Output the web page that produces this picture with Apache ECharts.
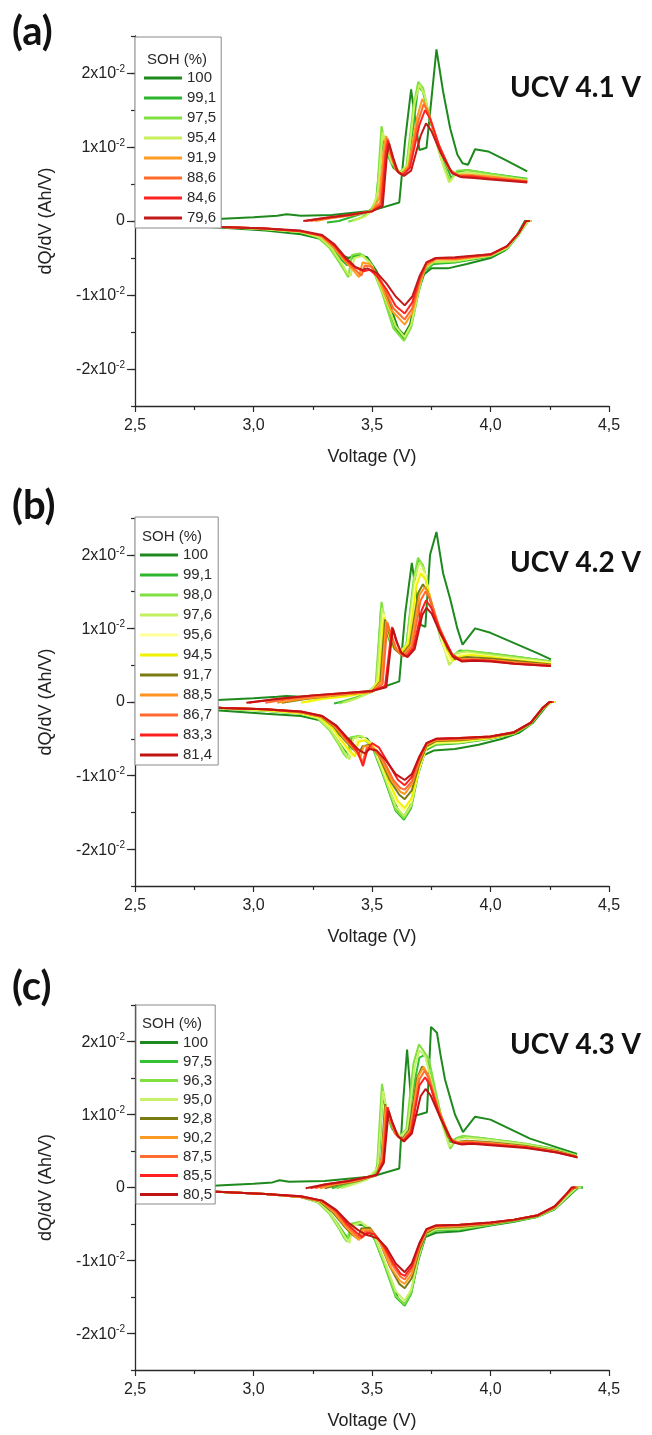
<!DOCTYPE html>
<html><head><meta charset="utf-8">
<script src="https://cdn.jsdelivr.net/npm/echarts@6/dist/echarts.min.js"></script>
<style>
html,body{margin:0;padding:0;background:#fff;width:652px;height:1435px;overflow:hidden}
.p{position:absolute;left:0;width:652px}
</style></head><body>
<div id="pa" class="p" style="top:0;height:478px"></div>
<div id="pb" class="p" style="top:478px;height:478px"></div>
<div id="pc" class="p" style="top:956px;height:479px"></div>
<script>
// ---------- shared axis data ----------
const X_MIN = 2.5, X_MAX = 4.5, X_STEP = 0.5;
const Y_MIN = -0.025, Y_MAX = 0.025;
const Y_LABEL_VALUES = [-0.02, -0.01, 0, 0.01, 0.02];
const X_NAME = 'Voltage (V)';
const Y_NAME = 'dQ/dV (Ah/V)';

// ---------- panel (a) UCV 4.1 V ----------
const A_SOH = ['100','99,1','97,5','95,4','91,9','88,6','84,6','79,6'];
const A_COLORS = ['#1e8a1e','#2db52d','#80e040','#c8f05a','#ff9a22','#ff6b2a','#ff2222','#c21a1a'];
const A_CHG_100 = [[2.70,0.0000],[2.87,0.0003],[3.00,0.0005],[3.10,0.0007],[3.14,0.0009],[3.20,0.0007],[3.33,0.0008],[3.50,0.0014],[3.615,0.0025],[3.64,0.0110],[3.665,0.0178],[3.685,0.0130],[3.70,0.0096],[3.73,0.0099],[3.772,0.0232],[3.80,0.0175],[3.83,0.0125],[3.86,0.0090],[3.882,0.0078],[3.905,0.0076],[3.935,0.0097],[3.99,0.0094],[4.06,0.0083],[4.155,0.0067]];
const A_CHG_991 = [[3.31,-0.0002],[3.36,0.0000],[3.42,0.0006],[3.48,0.0012],[3.515,0.0020],[3.535,0.0085],[3.55,0.0113],[3.565,0.0090],[3.59,0.0072],[3.62,0.0064],[3.65,0.0072],[3.675,0.0130],[3.695,0.0182],[3.715,0.0175],[3.75,0.0130],[3.80,0.0085],[3.835,0.0058],[3.86,0.0066],[3.90,0.0069],[4.00,0.0064],[4.155,0.0057]];
const A_CHG_975 = [[3.40,-0.0001],[3.45,0.0004],[3.49,0.0012],[3.52,0.0030],[3.54,0.0128],[3.555,0.0105],[3.58,0.0080],[3.615,0.0066],[3.645,0.0074],[3.675,0.0155],[3.695,0.0188],[3.715,0.0180],[3.745,0.0138],[3.79,0.0085],[3.83,0.0054],[3.86,0.0068],[3.90,0.0069],[4.00,0.0064],[4.155,0.0056]];
const A_CHG_954 = [[3.42,0.0000],[3.47,0.0006],[3.50,0.0014],[3.525,0.0040],[3.545,0.0120],[3.56,0.0100],[3.585,0.0078],[3.62,0.0066],[3.65,0.0076],[3.68,0.0160],[3.70,0.0184],[3.72,0.0172],[3.75,0.0132],[3.80,0.0075],[3.825,0.0052],[3.855,0.0064],[3.90,0.0066],[4.00,0.0062],[4.155,0.0055]];
const A_CHG_919 = [[3.26,0.0000],[3.33,0.0004],[3.42,0.0008],[3.50,0.0014],[3.53,0.0030],[3.55,0.0100],[3.56,0.0115],[3.575,0.0092],[3.60,0.0070],[3.625,0.0063],[3.655,0.0075],[3.69,0.0140],[3.712,0.0165],[3.735,0.0150],[3.77,0.0110],[3.82,0.0072],[3.86,0.0062],[3.90,0.0063],[4.00,0.0060],[4.155,0.0054]];
const A_CHG_886 = [[3.24,0.0000],[3.32,0.0004],[3.42,0.0008],[3.50,0.0013],[3.535,0.0025],[3.555,0.0095],[3.565,0.0112],[3.58,0.0090],[3.60,0.0070],[3.625,0.0062],[3.655,0.0072],[3.695,0.0135],[3.718,0.0158],[3.74,0.0145],[3.78,0.0105],[3.83,0.0068],[3.87,0.0061],[3.92,0.0061],[4.00,0.0058],[4.155,0.0053]];
const A_CHG_846 = [[3.22,0.0000],[3.30,0.0004],[3.40,0.0008],[3.50,0.0013],[3.54,0.0022],[3.558,0.0090],[3.568,0.0109],[3.585,0.0088],[3.605,0.0068],[3.63,0.0062],[3.66,0.0072],[3.70,0.0130],[3.724,0.0150],[3.745,0.0138],[3.785,0.0100],[3.835,0.0066],[3.87,0.0060],[3.92,0.0060],[4.00,0.0057],[4.155,0.0053]];
const A_CHG_796 = [[3.21,0.0000],[3.30,0.0004],[3.40,0.0008],[3.50,0.0013],[3.545,0.0020],[3.562,0.0085],[3.572,0.0105],[3.59,0.0085],[3.61,0.0066],[3.635,0.0061],[3.665,0.0068],[3.705,0.0115],[3.728,0.0132],[3.75,0.0122],[3.79,0.0092],[3.84,0.0064],[3.88,0.0059],[3.93,0.0058],[4.00,0.0056],[4.155,0.0052]];
const A_DIS_100 = [[2.70,-0.0006],[2.87,-0.0009],[3.05,-0.0013],[3.20,-0.0018],[3.28,-0.0024],[3.33,-0.0036],[3.37,-0.0046],[3.40,-0.0050],[3.44,-0.0046],[3.48,-0.0049],[3.52,-0.0068],[3.57,-0.0108],[3.61,-0.0145],[3.635,-0.0154],[3.66,-0.0140],[3.69,-0.0100],[3.72,-0.0072],[3.75,-0.0064],[3.82,-0.0064],[3.90,-0.0058],[4.00,-0.0050],[4.06,-0.0040],[4.11,-0.0020],[4.145,0.0000],[4.165,0.0000]];
const A_DIS_991 = [[2.70,-0.0005],[2.87,-0.0008],[3.05,-0.0011],[3.20,-0.0015],[3.28,-0.0022],[3.33,-0.0036],[3.37,-0.0052],[3.395,-0.0060],[3.42,-0.0048],[3.46,-0.0046],[3.50,-0.0060],[3.55,-0.0100],[3.60,-0.0145],[3.637,-0.0160],[3.665,-0.0142],[3.695,-0.0098],[3.72,-0.0068],[3.76,-0.0058],[3.85,-0.0056],[4.00,-0.0048],[4.07,-0.0038],[4.12,-0.0018],[4.155,0.0000],[4.175,0.0000]];
const A_DIS_975 = [[2.70,-0.0005],[2.87,-0.0008],[3.05,-0.0011],[3.20,-0.0015],[3.27,-0.0022],[3.32,-0.0036],[3.36,-0.0055],[3.385,-0.0068],[3.40,-0.0076],[3.415,-0.0046],[3.45,-0.0044],[3.49,-0.0055],[3.54,-0.0095],[3.59,-0.0145],[3.635,-0.0162],[3.665,-0.0144],[3.695,-0.0098],[3.72,-0.0066],[3.76,-0.0056],[3.85,-0.0055],[4.00,-0.0047],[4.07,-0.0037],[4.12,-0.0018],[4.16,0.0000],[4.175,0.0000]];
const A_DIS_954 = [[2.70,-0.0005],[2.87,-0.0008],[3.05,-0.0011],[3.20,-0.0015],[3.28,-0.0022],[3.33,-0.0037],[3.37,-0.0056],[3.395,-0.0070],[3.41,-0.0074],[3.425,-0.0050],[3.46,-0.0047],[3.50,-0.0060],[3.55,-0.0100],[3.60,-0.0142],[3.637,-0.0157],[3.665,-0.0140],[3.695,-0.0095],[3.72,-0.0064],[3.76,-0.0055],[3.85,-0.0054],[4.00,-0.0047],[4.07,-0.0036],[4.12,-0.0017],[4.158,0.0000],[4.172,0.0000]];
const A_DIS_919 = [[2.70,-0.0005],[2.87,-0.0008],[3.05,-0.0010],[3.20,-0.0014],[3.28,-0.0020],[3.33,-0.0033],[3.38,-0.0052],[3.42,-0.0066],[3.445,-0.0076],[3.46,-0.0056],[3.49,-0.0058],[3.53,-0.0080],[3.58,-0.0120],[3.638,-0.0140],[3.67,-0.0124],[3.70,-0.0085],[3.73,-0.0060],[3.77,-0.0052],[3.85,-0.0052],[4.00,-0.0046],[4.07,-0.0035],[4.12,-0.0016],[4.152,0.0000],[4.168,0.0000]];
const A_DIS_886 = [[2.70,-0.0005],[2.87,-0.0008],[3.05,-0.0010],[3.20,-0.0014],[3.29,-0.0020],[3.34,-0.0034],[3.39,-0.0054],[3.43,-0.0066],[3.455,-0.0074],[3.47,-0.0060],[3.50,-0.0062],[3.54,-0.0082],[3.59,-0.0118],[3.638,-0.0133],[3.67,-0.0118],[3.70,-0.0082],[3.73,-0.0058],[3.77,-0.0051],[3.85,-0.0051],[4.00,-0.0046],[4.07,-0.0034],[4.12,-0.0016],[4.15,0.0000],[4.165,0.0000]];
const A_DIS_846 = [[2.70,-0.0005],[2.87,-0.0008],[3.05,-0.0010],[3.20,-0.0014],[3.29,-0.0020],[3.34,-0.0033],[3.39,-0.0052],[3.43,-0.0063],[3.465,-0.0068],[3.49,-0.0066],[3.52,-0.0074],[3.56,-0.0092],[3.60,-0.0115],[3.638,-0.0125],[3.67,-0.0110],[3.70,-0.0078],[3.73,-0.0056],[3.77,-0.0050],[3.85,-0.0050],[4.00,-0.0045],[4.07,-0.0034],[4.12,-0.0016],[4.15,0.0000],[4.165,0.0000]];
const A_DIS_796 = [[2.70,-0.0005],[2.87,-0.0008],[3.05,-0.0010],[3.20,-0.0013],[3.29,-0.0019],[3.34,-0.0031],[3.39,-0.0050],[3.43,-0.0062],[3.46,-0.0066],[3.48,-0.0064],[3.52,-0.0070],[3.56,-0.0084],[3.60,-0.0102],[3.638,-0.0114],[3.67,-0.0102],[3.70,-0.0075],[3.73,-0.0056],[3.77,-0.0050],[3.85,-0.0049],[4.00,-0.0045],[4.07,-0.0034],[4.12,-0.0016],[4.148,0.0000],[4.165,0.0000]];

// ---------- panel (b) UCV 4.2 V ----------
const B_SOH = ['100','99,1','98,0','97,6','95,6','94,5','91,7','88,5','86,7','83,3','81,4'];
const B_COLORS = ['#1e8a1e','#2db52d','#80e040','#c2f060','#ffff99','#f2f200','#7a7a12','#ff9422','#ff6a30','#ff1e1e','#c01414'];
const B_CHG_100 = [[2.70,0.0000],[2.87,0.0003],[3.00,0.0005],[3.10,0.0007],[3.14,0.0008],[3.20,0.0007],[3.33,0.0009],[3.50,0.0015],[3.615,0.0028],[3.64,0.0120],[3.668,0.0189],[3.69,0.0140],[3.705,0.0105],[3.725,0.0102],[3.745,0.0200],[3.772,0.0231],[3.80,0.0175],[3.83,0.0140],[3.86,0.0100],[3.882,0.0078],[3.935,0.0100],[4.00,0.0094],[4.10,0.0080],[4.20,0.0066],[4.255,0.0058]];
const B_CHG_991 = [[3.34,-0.0002],[3.38,0.0001],[3.44,0.0007],[3.50,0.0014],[3.52,0.0025],[3.538,0.0128],[3.555,0.0100],[3.58,0.0078],[3.615,0.0068],[3.645,0.0076],[3.672,0.0150],[3.695,0.0192],[3.715,0.0185],[3.745,0.0140],[3.79,0.0090],[3.84,0.0062],[3.87,0.0070],[4.00,0.0066],[4.10,0.0062],[4.255,0.0055]];
const B_CHG_980 = [[3.36,-0.0002],[3.41,0.0003],[3.47,0.0010],[3.515,0.0022],[3.54,0.0136],[3.555,0.0110],[3.58,0.0080],[3.615,0.0068],[3.645,0.0078],[3.675,0.0165],[3.694,0.0196],[3.715,0.0186],[3.745,0.0142],[3.79,0.0085],[3.83,0.0052],[3.86,0.0068],[3.90,0.0070],[4.00,0.0066],[4.10,0.0062],[4.255,0.0055]];
const B_CHG_976 = [[3.38,-0.0001],[3.43,0.0004],[3.48,0.0011],[3.52,0.0026],[3.543,0.0128],[3.56,0.0104],[3.585,0.0078],[3.62,0.0068],[3.65,0.0080],[3.68,0.0168],[3.70,0.0190],[3.72,0.0180],[3.75,0.0135],[3.80,0.0080],[3.825,0.0050],[3.855,0.0066],[3.90,0.0068],[4.00,0.0064],[4.10,0.0060],[4.255,0.0054]];
const B_CHG_956 = [[3.22,-0.0001],[3.30,0.0004],[3.40,0.0008],[3.50,0.0014],[3.528,0.0030],[3.548,0.0120],[3.565,0.0098],[3.59,0.0075],[3.62,0.0066],[3.65,0.0078],[3.683,0.0160],[3.703,0.0182],[3.725,0.0172],[3.755,0.0128],[3.80,0.0078],[3.83,0.0055],[3.86,0.0064],[3.90,0.0066],[4.00,0.0062],[4.10,0.0058],[4.255,0.0053]];
const B_CHG_945 = [[3.20,-0.0001],[3.28,0.0004],[3.40,0.0008],[3.50,0.0014],[3.53,0.0030],[3.55,0.0115],[3.568,0.0096],[3.59,0.0074],[3.62,0.0065],[3.655,0.0080],[3.688,0.0158],[3.706,0.0175],[3.728,0.0165],[3.76,0.0122],[3.81,0.0075],[3.84,0.0056],[3.87,0.0062],[3.92,0.0064],[4.00,0.0061],[4.10,0.0057],[4.255,0.0052]];
const B_CHG_917 = [[3.12,-0.0001],[3.22,0.0004],[3.35,0.0009],[3.50,0.0014],[3.535,0.0028],[3.555,0.0112],[3.572,0.0094],[3.595,0.0072],[3.625,0.0064],[3.66,0.0078],[3.695,0.0148],[3.715,0.0160],[3.735,0.0150],[3.77,0.0112],[3.82,0.0072],[3.85,0.0058],[3.90,0.0061],[4.00,0.0059],[4.10,0.0056],[4.255,0.0051]];
const B_CHG_885 = [[3.10,-0.0001],[3.20,0.0004],[3.35,0.0009],[3.50,0.0014],[3.54,0.0028],[3.56,0.0110],[3.575,0.0095],[3.60,0.0072],[3.63,0.0063],[3.665,0.0078],[3.70,0.0145],[3.722,0.0156],[3.742,0.0145],[3.78,0.0105],[3.83,0.0068],[3.86,0.0058],[3.90,0.0058],[4.00,0.0057],[4.10,0.0054],[4.255,0.0050]];
const B_CHG_867 = [[3.05,-0.0001],[3.15,0.0004],[3.30,0.0009],[3.50,0.0014],[3.545,0.0025],[3.565,0.0108],[3.58,0.0093],[3.605,0.0070],[3.635,0.0062],[3.67,0.0076],[3.705,0.0138],[3.726,0.0150],[3.745,0.0140],[3.785,0.0100],[3.835,0.0065],[3.87,0.0057],[3.92,0.0058],[4.00,0.0056],[4.10,0.0053],[4.255,0.0050]];
const B_CHG_833 = [[2.98,-0.0001],[3.10,0.0004],[3.25,0.0009],[3.50,0.0015],[3.555,0.0022],[3.585,0.0102],[3.60,0.0085],[3.62,0.0068],[3.645,0.0062],[3.675,0.0074],[3.71,0.0125],[3.728,0.0138],[3.75,0.0128],[3.79,0.0095],[3.84,0.0064],[3.88,0.0056],[3.93,0.0057],[4.00,0.0056],[4.10,0.0052],[4.255,0.0049]];
const B_CHG_814 = [[2.97,-0.0001],[3.10,0.0004],[3.25,0.0009],[3.50,0.0015],[3.56,0.0020],[3.588,0.0100],[3.605,0.0082],[3.625,0.0066],[3.65,0.0061],[3.68,0.0072],[3.712,0.0118],[3.73,0.0128],[3.752,0.0120],[3.79,0.0092],[3.84,0.0062],[3.88,0.0055],[3.93,0.0056],[4.00,0.0055],[4.10,0.0052],[4.255,0.0049]];
const B_DIS_100 = [[2.70,-0.0008],[2.87,-0.0012],[3.05,-0.0016],[3.20,-0.0019],[3.28,-0.0025],[3.32,-0.0034],[3.37,-0.0046],[3.40,-0.0050],[3.44,-0.0047],[3.48,-0.0050],[3.52,-0.0068],[3.57,-0.0110],[3.61,-0.0148],[3.635,-0.0156],[3.66,-0.0142],[3.69,-0.0100],[3.72,-0.0072],[3.76,-0.0066],[3.85,-0.0064],[3.95,-0.0058],[4.05,-0.0050],[4.12,-0.0042],[4.18,-0.0028],[4.23,-0.0008],[4.255,0.0000],[4.27,0.0000]];
const B_DIS_991 = [[2.70,-0.0006],[2.87,-0.0009],[3.05,-0.0012],[3.20,-0.0016],[3.27,-0.0022],[3.32,-0.0036],[3.36,-0.0054],[3.385,-0.0066],[3.40,-0.0070],[3.415,-0.0050],[3.45,-0.0046],[3.50,-0.0060],[3.55,-0.0102],[3.60,-0.0148],[3.635,-0.0160],[3.665,-0.0144],[3.695,-0.0098],[3.725,-0.0066],[3.77,-0.0058],[3.87,-0.0056],[4.00,-0.0050],[4.10,-0.0043],[4.17,-0.0030],[4.22,-0.0010],[4.255,0.0000],[4.272,0.0000]];
const B_DIS_980 = [[2.70,-0.0006],[2.87,-0.0009],[3.05,-0.0012],[3.20,-0.0016],[3.27,-0.0022],[3.32,-0.0038],[3.36,-0.0058],[3.38,-0.0070],[3.395,-0.0076],[3.41,-0.0048],[3.45,-0.0046],[3.50,-0.0058],[3.55,-0.0100],[3.60,-0.0146],[3.635,-0.0158],[3.665,-0.0142],[3.695,-0.0096],[3.725,-0.0064],[3.77,-0.0057],[3.87,-0.0055],[4.00,-0.0050],[4.10,-0.0043],[4.17,-0.0030],[4.22,-0.0010],[4.258,0.0000],[4.275,0.0000]];
const B_DIS_976 = [[2.70,-0.0006],[2.87,-0.0009],[3.05,-0.0012],[3.20,-0.0016],[3.275,-0.0022],[3.325,-0.0038],[3.365,-0.0058],[3.39,-0.0072],[3.405,-0.0078],[3.42,-0.0050],[3.455,-0.0046],[3.50,-0.0057],[3.55,-0.0098],[3.60,-0.0142],[3.636,-0.0155],[3.665,-0.0140],[3.695,-0.0095],[3.725,-0.0063],[3.77,-0.0056],[3.87,-0.0055],[4.00,-0.0049],[4.10,-0.0042],[4.17,-0.0029],[4.22,-0.0009],[4.256,0.0000],[4.273,0.0000]];
const B_DIS_956 = [[2.70,-0.0005],[2.87,-0.0008],[3.05,-0.0011],[3.20,-0.0015],[3.28,-0.0021],[3.33,-0.0036],[3.37,-0.0055],[3.40,-0.0068],[3.42,-0.0074],[3.435,-0.0052],[3.47,-0.0050],[3.51,-0.0062],[3.56,-0.0102],[3.605,-0.0138],[3.637,-0.0148],[3.665,-0.0134],[3.70,-0.0090],[3.73,-0.0062],[3.77,-0.0055],[3.87,-0.0054],[4.00,-0.0049],[4.10,-0.0042],[4.17,-0.0029],[4.22,-0.0009],[4.255,0.0000],[4.27,0.0000]];
const B_DIS_945 = [[2.70,-0.0005],[2.87,-0.0008],[3.05,-0.0011],[3.20,-0.0015],[3.28,-0.0021],[3.335,-0.0036],[3.375,-0.0054],[3.405,-0.0066],[3.428,-0.0074],[3.442,-0.0054],[3.475,-0.0052],[3.52,-0.0066],[3.565,-0.0104],[3.61,-0.0135],[3.638,-0.0144],[3.668,-0.0130],[3.70,-0.0088],[3.73,-0.0061],[3.77,-0.0054],[3.87,-0.0053],[4.00,-0.0049],[4.10,-0.0042],[4.17,-0.0029],[4.22,-0.0009],[4.254,0.0000],[4.27,0.0000]];
const B_DIS_917 = [[2.70,-0.0005],[2.87,-0.0008],[3.05,-0.0010],[3.20,-0.0014],[3.285,-0.0020],[3.34,-0.0034],[3.385,-0.0052],[3.42,-0.0064],[3.445,-0.0070],[3.46,-0.0060],[3.49,-0.0058],[3.53,-0.0074],[3.575,-0.0106],[3.615,-0.0126],[3.638,-0.0132],[3.668,-0.0120],[3.70,-0.0084],[3.73,-0.0060],[3.77,-0.0053],[3.87,-0.0052],[4.00,-0.0048],[4.10,-0.0042],[4.17,-0.0029],[4.22,-0.0009],[4.252,0.0000],[4.268,0.0000]];
const B_DIS_885 = [[2.70,-0.0005],[2.87,-0.0008],[3.05,-0.0010],[3.20,-0.0014],[3.29,-0.0020],[3.345,-0.0034],[3.39,-0.0052],[3.425,-0.0064],[3.45,-0.0076],[3.465,-0.0060],[3.50,-0.0060],[3.54,-0.0078],[3.585,-0.0108],[3.62,-0.0122],[3.638,-0.0125],[3.668,-0.0112],[3.70,-0.0080],[3.73,-0.0058],[3.77,-0.0052],[3.87,-0.0051],[4.00,-0.0048],[4.10,-0.0041],[4.17,-0.0028],[4.22,-0.0008],[4.25,0.0000],[4.265,0.0000]];
const B_DIS_867 = [[2.70,-0.0005],[2.87,-0.0008],[3.05,-0.0010],[3.20,-0.0014],[3.29,-0.0020],[3.35,-0.0034],[3.395,-0.0052],[3.435,-0.0066],[3.46,-0.0082],[3.478,-0.0062],[3.51,-0.0064],[3.55,-0.0080],[3.59,-0.0106],[3.62,-0.0117],[3.638,-0.0119],[3.668,-0.0108],[3.70,-0.0078],[3.73,-0.0057],[3.77,-0.0051],[3.87,-0.0050],[4.00,-0.0047],[4.10,-0.0041],[4.17,-0.0028],[4.22,-0.0008],[4.25,0.0000],[4.265,0.0000]];
const B_DIS_833 = [[2.70,-0.0005],[2.87,-0.0008],[3.05,-0.0010],[3.20,-0.0013],[3.29,-0.0019],[3.35,-0.0033],[3.40,-0.0052],[3.44,-0.0068],[3.462,-0.0087],[3.48,-0.0066],[3.50,-0.0056],[3.53,-0.0062],[3.57,-0.0084],[3.61,-0.0106],[3.638,-0.0113],[3.668,-0.0102],[3.70,-0.0075],[3.73,-0.0056],[3.77,-0.0050],[3.87,-0.0049],[4.00,-0.0047],[4.10,-0.0041],[4.17,-0.0028],[4.22,-0.0008],[4.25,0.0000],[4.262,0.0000]];
const B_DIS_814 = [[2.70,-0.0005],[2.87,-0.0008],[3.05,-0.0010],[3.20,-0.0013],[3.29,-0.0019],[3.35,-0.0032],[3.40,-0.0050],[3.44,-0.0064],[3.47,-0.0070],[3.49,-0.0064],[3.52,-0.0066],[3.56,-0.0080],[3.60,-0.0098],[3.638,-0.0106],[3.668,-0.0098],[3.70,-0.0074],[3.73,-0.0056],[3.77,-0.0050],[3.87,-0.0049],[4.00,-0.0047],[4.10,-0.0041],[4.17,-0.0028],[4.22,-0.0008],[4.248,0.0000],[4.26,0.0000]];

// ---------- panel (c) UCV 4.3 V ----------
const C_SOH = ['100','97,5','96,3','95,0','92,8','90,2','87,5','85,5','80,5'];
const C_COLORS = ['#1e8a1e','#33c433','#80e040','#c8f06a','#7a7a12','#ff9a22','#ff6e30','#ff2020','#c01414'];
const C_CHG_100 = [[2.70,0.0000],[2.87,0.0003],[3.00,0.0005],[3.08,0.0007],[3.11,0.0010],[3.15,0.0008],[3.30,0.0009],[3.50,0.0015],[3.615,0.0026],[3.632,0.0120],[3.648,0.0189],[3.66,0.0140],[3.669,0.0098],[3.70,0.0100],[3.732,0.0103],[3.749,0.0220],[3.774,0.0212],[3.79,0.0180],[3.808,0.0148],[3.85,0.0100],[3.884,0.0076],[3.935,0.0097],[4.00,0.0093],[4.167,0.0067],[4.28,0.0055],[4.365,0.0046]];
const C_CHG_975 = [[3.33,-0.0001],[3.38,0.0003],[3.45,0.0009],[3.51,0.0016],[3.53,0.0040],[3.545,0.0128],[3.56,0.0102],[3.585,0.0080],[3.615,0.0070],[3.645,0.0078],[3.68,0.0145],[3.70,0.0178],[3.725,0.0182],[3.75,0.0150],[3.79,0.0100],[3.83,0.0062],[3.86,0.0068],[3.95,0.0068],[4.10,0.0062],[4.25,0.0054],[4.365,0.0044]];
const C_CHG_963 = [[3.35,-0.0001],[3.40,0.0004],[3.47,0.0011],[3.52,0.0022],[3.542,0.0142],[3.558,0.0112],[3.585,0.0082],[3.618,0.0071],[3.645,0.0080],[3.675,0.0170],[3.698,0.0196],[3.72,0.0186],[3.74,0.0176],[3.77,0.0130],[3.80,0.0085],[3.83,0.0053],[3.86,0.0068],[3.884,0.0071],[4.00,0.0066],[4.15,0.0060],[4.28,0.0052],[4.365,0.0044]];
const C_CHG_950 = [[3.37,-0.0001],[3.42,0.0004],[3.48,0.0011],[3.525,0.0028],[3.546,0.0132],[3.562,0.0106],[3.59,0.0080],[3.62,0.0070],[3.65,0.0080],[3.68,0.0165],[3.70,0.0188],[3.725,0.0180],[3.755,0.0140],[3.80,0.0082],[3.826,0.0056],[3.86,0.0066],[3.90,0.0068],[4.00,0.0065],[4.15,0.0059],[4.28,0.0051],[4.36,0.0044]];
const C_CHG_928 = [[3.30,-0.0001],[3.36,0.0004],[3.44,0.0009],[3.52,0.0017],[3.54,0.0040],[3.555,0.0114],[3.57,0.0098],[3.595,0.0075],[3.625,0.0066],[3.655,0.0078],[3.69,0.0150],[3.712,0.0166],[3.735,0.0155],[3.77,0.0112],[3.82,0.0070],[3.85,0.0062],[3.90,0.0064],[4.00,0.0062],[4.15,0.0057],[4.28,0.0050],[4.36,0.0043]];
const C_CHG_902 = [[3.28,-0.0001],[3.34,0.0004],[3.43,0.0009],[3.52,0.0017],[3.542,0.0040],[3.558,0.0112],[3.572,0.0097],[3.598,0.0074],[3.628,0.0065],[3.66,0.0078],[3.695,0.0152],[3.718,0.0165],[3.74,0.0152],[3.78,0.0108],[3.83,0.0068],[3.86,0.0062],[3.90,0.0063],[4.00,0.0061],[4.15,0.0056],[4.28,0.0049],[4.36,0.0043]];
const C_CHG_875 = [[3.26,-0.0001],[3.32,0.0004],[3.42,0.0009],[3.52,0.0017],[3.545,0.0038],[3.562,0.0110],[3.576,0.0095],[3.60,0.0073],[3.63,0.0064],[3.662,0.0076],[3.70,0.0148],[3.722,0.0160],[3.742,0.0148],[3.78,0.0105],[3.83,0.0066],[3.86,0.0061],[3.90,0.0062],[4.00,0.0060],[4.15,0.0055],[4.28,0.0049],[4.36,0.0042]];
const C_CHG_855 = [[3.24,-0.0001],[3.30,0.0004],[3.40,0.0009],[3.52,0.0017],[3.548,0.0036],[3.566,0.0110],[3.58,0.0094],[3.605,0.0072],[3.632,0.0064],[3.665,0.0076],[3.70,0.0140],[3.724,0.0151],[3.745,0.0140],[3.785,0.0100],[3.835,0.0064],[3.87,0.0060],[3.92,0.0061],[4.00,0.0059],[4.15,0.0055],[4.28,0.0048],[4.365,0.0042]];
const C_CHG_805 = [[3.22,-0.0001],[3.30,0.0004],[3.40,0.0009],[3.52,0.0017],[3.55,0.0034],[3.57,0.0105],[3.585,0.0090],[3.61,0.0070],[3.635,0.0063],[3.668,0.0074],[3.705,0.0125],[3.726,0.0135],[3.748,0.0126],[3.79,0.0094],[3.84,0.0062],[3.88,0.0059],[3.92,0.0060],[4.00,0.0058],[4.15,0.0054],[4.28,0.0048],[4.368,0.0041]];
const C_DIS_100 = [[2.70,-0.0004],[2.87,-0.0006],[3.05,-0.0009],[3.20,-0.0013],[3.28,-0.0020],[3.33,-0.0032],[3.37,-0.0046],[3.40,-0.0052],[3.43,-0.0050],[3.47,-0.0052],[3.52,-0.0075],[3.57,-0.0118],[3.61,-0.0152],[3.638,-0.0160],[3.665,-0.0145],[3.695,-0.0100],[3.725,-0.0068],[3.77,-0.0062],[3.87,-0.0060],[4.00,-0.0052],[4.10,-0.0047],[4.20,-0.0040],[4.27,-0.0030],[4.33,-0.0012],[4.37,0.0000],[4.39,0.0000]];
const C_DIS_975 = [[2.70,-0.0004],[2.87,-0.0006],[3.05,-0.0009],[3.20,-0.0013],[3.27,-0.0020],[3.32,-0.0034],[3.36,-0.0052],[3.385,-0.0064],[3.40,-0.0070],[3.415,-0.0050],[3.45,-0.0048],[3.50,-0.0062],[3.55,-0.0104],[3.60,-0.0150],[3.638,-0.0162],[3.665,-0.0146],[3.695,-0.0100],[3.725,-0.0066],[3.77,-0.0059],[3.87,-0.0058],[4.00,-0.0051],[4.10,-0.0046],[4.20,-0.0040],[4.27,-0.0030],[4.33,-0.0011],[4.37,0.0000],[4.39,0.0000]];
const C_DIS_963 = [[2.70,-0.0004],[2.87,-0.0006],[3.05,-0.0009],[3.20,-0.0013],[3.27,-0.0020],[3.32,-0.0036],[3.36,-0.0056],[3.38,-0.0068],[3.395,-0.0074],[3.41,-0.0050],[3.45,-0.0047],[3.50,-0.0060],[3.55,-0.0102],[3.60,-0.0148],[3.637,-0.0160],[3.665,-0.0144],[3.695,-0.0098],[3.725,-0.0065],[3.77,-0.0058],[3.87,-0.0057],[4.00,-0.0051],[4.10,-0.0046],[4.20,-0.0040],[4.27,-0.0029],[4.33,-0.0010],[4.365,0.0000],[4.385,0.0000]];
const C_DIS_950 = [[2.70,-0.0004],[2.87,-0.0006],[3.05,-0.0009],[3.20,-0.0013],[3.275,-0.0020],[3.325,-0.0036],[3.365,-0.0056],[3.39,-0.0070],[3.405,-0.0076],[3.42,-0.0052],[3.455,-0.0048],[3.50,-0.0058],[3.55,-0.0098],[3.60,-0.0142],[3.637,-0.0155],[3.665,-0.0140],[3.695,-0.0096],[3.725,-0.0064],[3.77,-0.0057],[3.87,-0.0056],[4.00,-0.0050],[4.10,-0.0045],[4.20,-0.0039],[4.27,-0.0029],[4.33,-0.0010],[4.362,0.0000],[4.38,0.0000]];
const C_DIS_928 = [[2.70,-0.0004],[2.87,-0.0006],[3.05,-0.0009],[3.20,-0.0013],[3.28,-0.0019],[3.335,-0.0034],[3.38,-0.0052],[3.415,-0.0064],[3.44,-0.0070],[3.455,-0.0056],[3.49,-0.0055],[3.53,-0.0072],[3.575,-0.0108],[3.615,-0.0132],[3.638,-0.0138],[3.668,-0.0124],[3.70,-0.0086],[3.73,-0.0062],[3.77,-0.0055],[3.87,-0.0054],[4.00,-0.0050],[4.10,-0.0045],[4.20,-0.0039],[4.27,-0.0028],[4.32,-0.0010],[4.355,0.0000],[4.37,0.0000]];
const C_DIS_902 = [[2.70,-0.0004],[2.87,-0.0006],[3.05,-0.0009],[3.20,-0.0013],[3.285,-0.0019],[3.34,-0.0034],[3.385,-0.0052],[3.42,-0.0064],[3.445,-0.0072],[3.46,-0.0058],[3.495,-0.0058],[3.535,-0.0076],[3.58,-0.0110],[3.618,-0.0128],[3.638,-0.0132],[3.668,-0.0118],[3.70,-0.0082],[3.73,-0.0060],[3.77,-0.0054],[3.87,-0.0053],[4.00,-0.0049],[4.10,-0.0044],[4.20,-0.0038],[4.27,-0.0027],[4.32,-0.0010],[4.352,0.0000],[4.368,0.0000]];
const C_DIS_875 = [[2.70,-0.0004],[2.87,-0.0006],[3.05,-0.0009],[3.20,-0.0013],[3.29,-0.0019],[3.345,-0.0033],[3.39,-0.0051],[3.43,-0.0064],[3.455,-0.0070],[3.47,-0.0060],[3.50,-0.0060],[3.54,-0.0076],[3.585,-0.0106],[3.62,-0.0122],[3.638,-0.0126],[3.668,-0.0112],[3.70,-0.0080],[3.73,-0.0058],[3.77,-0.0053],[3.87,-0.0052],[4.00,-0.0049],[4.10,-0.0044],[4.20,-0.0038],[4.27,-0.0027],[4.32,-0.0009],[4.35,0.0000],[4.365,0.0000]];
const C_DIS_855 = [[2.70,-0.0004],[2.87,-0.0006],[3.05,-0.0009],[3.20,-0.0012],[3.29,-0.0018],[3.35,-0.0032],[3.395,-0.0050],[3.435,-0.0062],[3.46,-0.0068],[3.478,-0.0062],[3.51,-0.0064],[3.55,-0.0080],[3.59,-0.0104],[3.62,-0.0118],[3.638,-0.0121],[3.668,-0.0108],[3.70,-0.0078],[3.73,-0.0057],[3.77,-0.0052],[3.87,-0.0051],[4.00,-0.0048],[4.10,-0.0044],[4.20,-0.0038],[4.27,-0.0026],[4.32,-0.0009],[4.345,0.0000],[4.36,0.0000]];
const C_DIS_805 = [[2.70,-0.0004],[2.87,-0.0006],[3.05,-0.0009],[3.20,-0.0012],[3.29,-0.0018],[3.35,-0.0031],[3.40,-0.0048],[3.44,-0.0058],[3.47,-0.0064],[3.49,-0.0066],[3.525,-0.0070],[3.56,-0.0082],[3.60,-0.0104],[3.638,-0.0116],[3.668,-0.0104],[3.70,-0.0076],[3.73,-0.0057],[3.77,-0.0052],[3.87,-0.0051],[4.00,-0.0048],[4.10,-0.0044],[4.20,-0.0038],[4.27,-0.0026],[4.32,-0.0009],[4.342,0.0000],[4.355,0.0000]];

const A_CHG = [A_CHG_100,A_CHG_991,A_CHG_975,A_CHG_954,A_CHG_919,A_CHG_886,A_CHG_846,A_CHG_796];
const A_DIS = [A_DIS_100,A_DIS_991,A_DIS_975,A_DIS_954,A_DIS_919,A_DIS_886,A_DIS_846,A_DIS_796];
const B_CHG = [B_CHG_100,B_CHG_991,B_CHG_980,B_CHG_976,B_CHG_956,B_CHG_945,B_CHG_917,B_CHG_885,B_CHG_867,B_CHG_833,B_CHG_814];
const B_DIS = [B_DIS_100,B_DIS_991,B_DIS_980,B_DIS_976,B_DIS_956,B_DIS_945,B_DIS_917,B_DIS_885,B_DIS_867,B_DIS_833,B_DIS_814];
const C_CHG = [C_CHG_100,C_CHG_975,C_CHG_963,C_CHG_950,C_CHG_928,C_CHG_902,C_CHG_875,C_CHG_855,C_CHG_805];
const C_DIS = [C_DIS_100,C_DIS_975,C_DIS_963,C_DIS_950,C_DIS_928,C_DIS_902,C_DIS_875,C_DIS_855,C_DIS_805];

// ---------- rendering ----------
const F = '"Liberation Sans", Arial, sans-serif';
const FB = 'Lato, "Open Sans", sans-serif';
const AX = '#2a2a2a';

function yLabel(v){
  const k = Math.round(v*100);
  if (Math.abs(v*100 - k) > 1e-6) return '';
  if (k === 0) return '0';
  return '{n|' + k + 'x10}{s|-2}';
}

function build(id, P){
  const chart = echarts.init(document.getElementById(id), null, {renderer:'canvas'});
  const series = [];
  P.soh.forEach((n, i) => {
    [P.chg[i], P.dis[i]].forEach(d => series.push({
      type:'line', name:n, data:d, symbol:'none', showSymbol:false, silent:true,
      animation:false, color:P.colors[i],
      lineStyle:{width:2, color:P.colors[i]}, itemStyle:{color:P.colors[i]}
    }));
  });
  chart.setOption({
    animation:false,
    backgroundColor:'#fff',
    grid:{left:135, top:P.gridTop, width:474, height:P.gridH, containLabel:false},
    xAxis:{type:'value', min:X_MIN, max:X_MAX, interval:X_STEP,
      name:X_NAME, nameLocation:'middle', nameGap:42,
      nameTextStyle:{fontFamily:F, fontSize:18, color:'#222'},
      axisLine:{show:true, onZero:false, lineStyle:{color:AX, width:1.3}},
      axisTick:{show:true, length:6, lineStyle:{color:AX, width:1.2}},
      minorTick:{show:true, splitNumber:2, length:4, lineStyle:{color:AX, width:1.2}},
      splitLine:{show:false}, minorSplitLine:{show:false},
      axisLabel:{fontFamily:F, fontSize:16, color:'#222', margin:12,
        formatter:v => v.toFixed(1).replace('.', ',')}
    },
    yAxis:[{type:'value', min:Y_MIN, max:Y_MAX, interval:0.005,
      name:Y_NAME, nameLocation:'middle', nameGap:80, nameRotate:90,
      nameTextStyle:{fontFamily:F, fontSize:18, color:'#222'},
      axisLine:{show:true, onZero:false, lineStyle:{color:AX, width:1.3}},
      axisTick:{show:true, length:8, customValues:Y_LABEL_VALUES, lineStyle:{color:AX, width:1.2}},
      splitLine:{show:false},
      axisLabel:{fontFamily:F, fontSize:16, color:'#222', margin:10, customValues:Y_LABEL_VALUES,
        formatter:yLabel,
        rich:{n:{fontFamily:F, fontSize:16, color:'#222', lineHeight:18, verticalAlign:'bottom'},
              s:{fontFamily:F, fontSize:10, color:'#222', lineHeight:18, verticalAlign:'top'}}}
    },{type:'value', min:Y_MIN, max:Y_MAX, interval:0.005, position:'left', offset:0,
      axisLine:{show:false}, axisLabel:{show:false}, splitLine:{show:false},
      axisTick:{show:true, length:4, lineStyle:{color:AX, width:1.2}}
    }],
    legend:{orient:'vertical', left:P.lgLeft, top:P.lgTop, padding:P.lgPad,
      itemWidth:38, itemHeight:3, itemGap:0, icon:'rect', selectedMode:false,
      borderColor:'#8a8a8a', borderWidth:1, backgroundColor:'#fff',
      textStyle:{fontFamily:F, fontSize:15, color:'#2a2a2a', lineHeight:P.lgLine},
      data:P.soh},
    graphic:[
      {type:'text', x:P.tagX, y:P.tagY, z:100, style:{text:P.tag, font:'bold 40px ' + FB, fill:'#111', verticalAlign:'middle'}},
      {type:'text', x:510, y:P.ucvY, z:100, style:{text:P.ucv, font:'bold 28px ' + FB, fill:'#111', verticalAlign:'middle'}},
      {type:'text', x:P.sohX, y:P.sohY, z:100, style:{text:'SOH (%)', font:'15px ' + F, fill:'#2a2a2a', verticalAlign:'middle'}}
    ],
    series:series
  });
}

build('pa', {soh:A_SOH, colors:A_COLORS, chg:A_CHG, dis:A_DIS, gridTop:36, gridH:370,
  lgLeft:135, lgTop:37, lgPad:[31,5,0,9], lgLine:20, tag:'(a)', tagX:12, tagY:32,
  ucv:'UCV 4.1 V', ucvY:88, sohX:147, sohY:60});
build('pb', {soh:B_SOH, colors:B_COLORS, chg:B_CHG, dis:B_DIS, gridTop:40, gridH:368,
  lgLeft:135, lgTop:39, lgPad:[28,6,0,5], lgLine:20, tag:'(b)', tagX:12, tagY:28,
  ucv:'UCV 4.2 V', ucvY:85, sohX:142, sohY:59});
build('pc', {soh:C_SOH, colors:C_COLORS, chg:C_CHG, dis:C_DIS, gridTop:49, gridH:369,
  lgLeft:136, lgTop:49, lgPad:[28,3,0,4], lgLine:19, tag:'(c)', tagX:12, tagY:31,
  ucv:'UCV 4.3 V', ucvY:89, sohX:142, sohY:68});
</script>
</body></html>
